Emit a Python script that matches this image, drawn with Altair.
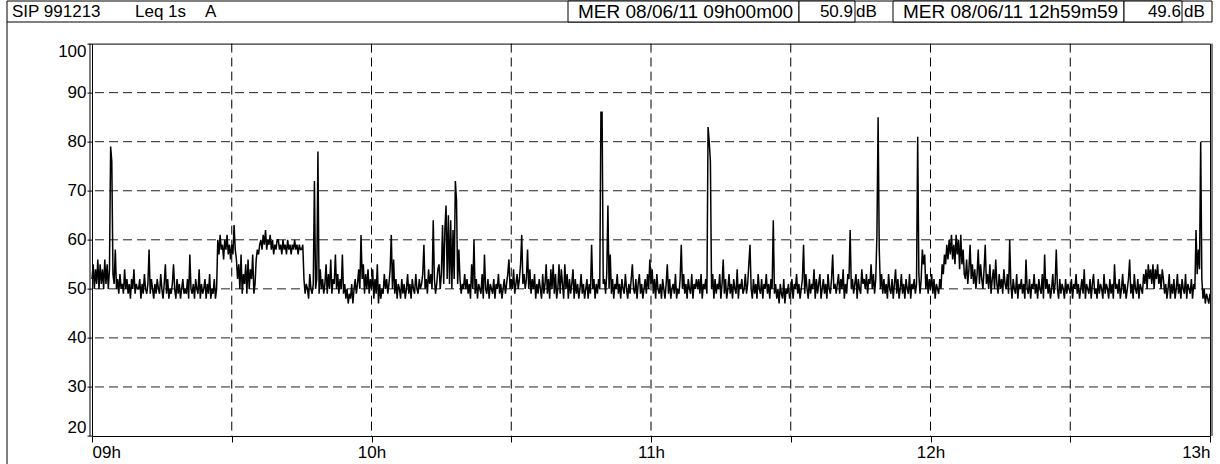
import altair as alt
import pandas as pd

# ---- data: Leq 1s (dB A), 10-minute blocks, 09h00 -> 13h00 ----
b0 = [52,55,50,54,51,56,50,55,51,54,50,56,51,55,50,54,79,76,53,51,58,50,52,49,53,50,51,49,54,50,52,49,51,48,52,50,54,49,51,50]
b1 = [50,52,48,51,49,53,50,49,51,58,49,52,50,48,51,49,52,50,49,53,50,48,51,55,49,52,48,50,49,51,55,50,48,52,49,51,48,50,52,49]
b2 = [50,49,52,48,57,50,49,51,48,52,50,49,54,48,51,49,50,52,48,51,49,53,48,50,49,52,48,50,60,57,61,58,59,56,60,58,61,57,59,56]
b3 = [59,57,63,58,56,52,55,50,57,49,53,51,55,49,56,50,54,52,57,49,51,56,58,57,59,60,58,61,59,62,58,60,59,61,58,60,57,59,58,60]
b4 = [60,58,59,57,60,58,59,57,60,58,59,57,59,58,60,58,59,57,59,58,58,59,52,49,51,50,48,53,50,49,51,72,50,52,78,49,54,50,52,49]
b5 = [51,55,49,53,50,56,49,52,51,57,50,53,49,52,50,57,49,51,48,50,47,49,48,51,47,50,52,49,51,54,50,61,52,55,49,53,50,54,49,52]
b6 = [50,54,48,52,49,55,47,51,48,50,49,53,50,52,49,51,54,61,50,56,49,52,48,51,50,48,52,49,51,48,50,53,49,51,48,52,50,49,53,50]
b7 = [49,52,50,51,53,59,50,52,49,54,51,53,50,64,52,49,51,54,55,50,53,63,51,62,67,52,65,51,64,50,62,52,72,68,51,58,52,49,51,50]
b8 = [53,50,52,49,51,48,55,50,60,49,52,48,51,50,49,53,48,57,50,49,52,48,51,50,49,52,48,51,50,53,49,51,48,50,52,49,51,53,56,50]
b9 = [52,50,54,49,51,53,50,52,55,61,51,53,50,52,58,50,54,49,52,50,53,48,51,49,52,50,48,53,49,51,55,49,52,48,54,50,55,49,53,48]
b10 = [50,55,49,54,51,48,55,50,53,48,52,49,51,54,48,52,49,51,48,50,53,49,51,48,50,52,48,51,49,59,50,52,48,51,49,52,50,86,86,51]
b11 = [52,49,53,67,50,57,49,52,48,51,50,53,49,51,48,52,50,49,53,50,48,51,49,52,55,50,49,52,48,51,53,49,51,48,50,52,49,53,50,56]
b12 = [51,54,49,52,48,53,50,49,51,48,52,50,48,51,55,49,52,48,50,51,49,53,48,50,49,52,59,50,53,49,51,48,52,50,49,53,48,51,50,52]
b13 = [50,52,49,53,48,51,50,52,49,83,80,76,50,53,48,52,49,51,50,53,48,51,56,49,52,48,50,53,49,51,48,52,50,49,54,48,51,50,52,49]
b14 = [50,53,49,51,55,59,50,48,52,49,51,48,53,50,49,52,48,51,50,53,49,51,48,52,50,64,49,51,48,50,47,51,49,48,52,47,50,49,51,48]
b15 = [49,52,48,51,50,53,49,51,48,50,52,59,49,53,50,48,52,49,51,50,54,48,52,49,51,53,48,50,52,49,51,48,53,50,49,52,57,50,51,49]
b16 = [51,53,49,52,50,54,48,51,49,53,52,62,50,52,49,51,53,48,52,50,49,54,51,52,50,53,49,52,51,55,50,53,49,52,61,85,58,50,53,49]
b17 = [52,49,51,48,53,50,49,52,48,51,54,49,52,48,50,53,49,51,48,52,50,49,53,48,51,50,52,49,51,81,53,49,52,58,55,57,50,53,49,52]
b18 = [50,53,49,52,48,51,50,49,52,50,55,53,57,55,59,56,60,57,61,56,59,55,61,57,60,54,61,55,58,53,52,56,51,54,59,52,55,51,54,50]
b19 = [53,58,51,55,52,50,54,59,51,53,50,55,49,52,54,50,56,51,49,53,50,52,49,54,51,50,53,49,60,51,48,52,50,49,53,48,51,50,52,49]
b20 = [51,48,56,50,49,52,48,51,50,53,49,51,48,52,50,49,53,48,57,50,52,49,51,48,50,53,49,51,58,50,48,52,49,51,50,48,52,49,51,50]
b21 = [49,52,48,51,50,53,49,51,48,50,52,49,54,48,51,50,49,52,48,51,53,49,50,48,52,49,51,50,48,53,49,51,50,48,52,49,51,48,55,50]
b22 = [51,49,52,48,50,53,49,51,48,50,52,56,49,51,48,53,50,49,52,48,51,50,49,53,51,54,50,55,52,54,51,55,50,54,52,55,51,53,50,54]
b23 = [52,49,51,48,50,53,48,51,49,52,48,50,53,49,51,48,52,50,49,53,48,51,50,49,52,48,51,50,62,53,58,54,80,52,48,50,47,49,48,47]
last_value = 49

blocks = [b0,b1,b2,b3,b4,b5,b6,b7,b8,b9,b10,b11,b12,b13,b14,b15,b16,b17,b18,b19,b20,b21,b22,b23]

x_ticks = [0, 30, 60, 90, 120, 150, 180, 210, 240]     # minutes after 09h00
y_ticks = [20, 30, 40, 50, 60, 70, 80, 90, 100]
x_grid = [30, 60, 90, 120, 150, 180, 210]
y_grid = [30, 40, 50, 60, 70, 80, 90]

header_title = ["SIP 991213", "Leq 1s", "A"]
cursor_labels = ["MER 08/06/11 09h00m00", "MER 08/06/11 12h59m59"]
cursor_values = ["50.9", "49.6"]
cursor_units = ["dB", "dB"]

# ---- build series ----
t, v = [], []
for bi, vals in enumerate(blocks):
    n = len(vals)
    for i, val in enumerate(vals):
        t.append(bi * 10 + i * 10.0 / n)
        v.append(val)
t.append(240); v.append(last_value)
df = pd.DataFrame({"t": t, "db": v})

# ---- layout (pixels) ----
L, T, R, B = 92, 43.6, 1210, 436
W, H = R - L, B - T
HT, HB = 1, 22          # header top / bottom
FONT = "Liberation Sans"
FS = 17
HY = (HT + HB) / 2 + 1 - T

xscale = alt.Scale(domain=[0, 240], nice=False, zero=False)
yscale = alt.Scale(domain=[20, 100], nice=False, zero=False)

label_expr = ("datum.value % 60 == 0 ? (((9 + datum.value/60) < 10) ? '0' : '') + "
              "(9 + datum.value/60) + 'h' : ''")

line = alt.Chart(df).mark_line(color="black", strokeWidth=1.5).encode(
    x=alt.X("t:Q", scale=xscale,
            axis=alt.Axis(values=x_ticks, labelExpr=label_expr, title=None, grid=False,
                          domain=False, tickSize=6, tickColor="black", labelPadding=2,
                          labelFlush=True, labelFont=FONT, labelFontSize=FS,
                          labelColor="black", labelOverlap=False)),
    y=alt.Y("db:Q", scale=yscale,
            axis=alt.Axis(values=y_ticks, title=None, grid=False, domain=False,
                          tickSize=5, tickColor="black", labelPadding=1,
                          labelFlush=True, labelFont=FONT, labelFontSize=FS,
                          labelColor="black")),
)

vgrid = alt.Chart(pd.DataFrame({"g": x_grid})).mark_rule(
    color="black", strokeWidth=1, strokeDash=[9, 5]).encode(x=alt.X("g:Q", scale=xscale))
hgrid = alt.Chart(pd.DataFrame({"g": y_grid})).mark_rule(
    color="#222", strokeWidth=1, strokeDash=[9, 5]).encode(y=alt.Y("g:Q", scale=yscale))

# header boxes (pixel positions relative to plot origin)
box_px = [(7, 1212), (568, 799), (799, 855), (893, 1124), (1124, 1182)]
boxes = pd.DataFrame({
    "x0": [a - L for a, b in box_px], "x1": [b - L for a, b in box_px],
    "y0": [HT - T] * len(box_px), "y1": [HB - T] * len(box_px)})
hdr_rect = alt.Chart(boxes).mark_rect(fill="white", stroke="black", strokeWidth=1).encode(
    x=alt.X("x0:Q", scale=None), x2="x1", y=alt.Y("y0:Q", scale=None), y2="y1")

def text_layer(txts, xs, align, size):
    d = pd.DataFrame({"txt": txts, "x": [a - L for a in xs], "y": [HY] * len(txts)})
    return alt.Chart(d).mark_text(font=FONT, fontSize=size, color="black",
                                  align=align, baseline="middle").encode(
        x=alt.X("x:Q", scale=None), y=alt.Y("y:Q", scale=None), text="txt:N")

t_title = text_layer(header_title, [12, 135, 205], "left", FS)
t_curs = text_layer(cursor_labels, [578, 903], "left", 19)
t_vals = text_layer(cursor_values, [853, 1181], "right", FS)
t_units = text_layer(cursor_units, [856, 1184], "left", FS)

# frame extras: outer left line and double plot borders
outer_left = alt.Chart().mark_rule(color="black", strokeWidth=1).encode(
    x=alt.value(7 - L), y=alt.value(HB - T), y2=alt.value(470 - T))
dbl_left = alt.Chart().mark_rule(color="black", strokeWidth=1).encode(
    x=alt.value(-2), y=alt.value(0), y2=alt.value(H))
dbl_right = alt.Chart().mark_rule(color="black", strokeWidth=1).encode(
    x=alt.value(W + 2), y=alt.value(0), y2=alt.value(H))

chart = alt.layer(
    hdr_rect, t_title, t_curs, t_vals, t_units, outer_left, dbl_left, dbl_right,
    vgrid, hgrid, line
).properties(
    width=W, height=H, autosize="none",
    padding={"left": L, "top": T, "right": 1220 - R, "bottom": 464 - B},
    background="white",
).configure_view(stroke="black", strokeWidth=1)

chart.save("out.html", embed_options={"renderer": "svg", "actions": False})
